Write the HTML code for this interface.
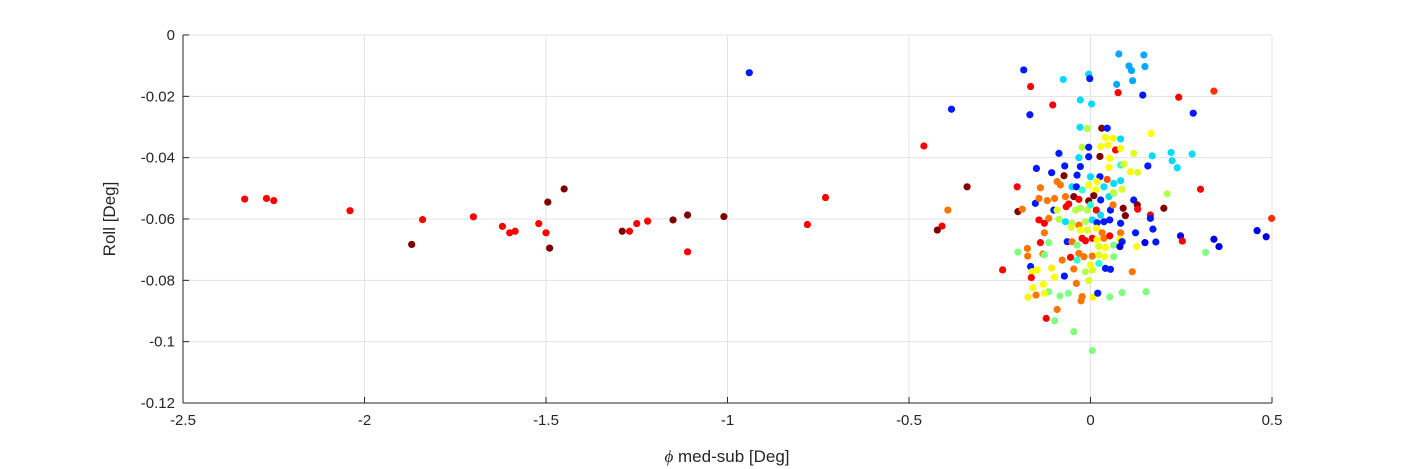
<!DOCTYPE html>
<html><head><meta charset="utf-8">
<style>
html,body{margin:0;padding:0;background:#fff;}
svg{display:block;font-family:"Liberation Sans",sans-serif;}
</style></head>
<body>
<svg id="chart" width="1406" height="469" viewBox="0 0 1406 469">
<rect x="0" y="0" width="1406" height="469" fill="#fff"/>
<g id="grid"></g>
<g id="pts"></g>
<g id="axes"></g>
<text x="727" y="462" text-anchor="middle" font-size="17" fill="#262626"><tspan font-family="Liberation Serif,serif" font-style="italic">ϕ</tspan> med-sub [Deg]</text>
<text transform="translate(115,219) rotate(-90)" text-anchor="middle" font-size="17" fill="#262626">Roll [Deg]</text>
</svg>
<script>
const xTicks=[-2.5,-2,-1.5,-1,-0.5,0,0.5];
const xTickLabels=["-2.5","-2","-1.5","-1","-0.5","0","0.5"];
const yTicks=[0,-0.02,-0.04,-0.06,-0.08,-0.1,-0.12];
const yTickLabels=["0","-0.02","-0.04","-0.06","-0.08","-0.1","-0.12"];
const xs=[-2.33,-2.27,-2.25,-2.04,-1.87,-1.84,-1.70,-1.62,-1.60,-1.585,-1.52,-1.50,-1.495,-1.49,-1.45,-1.29,-1.27,-1.25,-1.22,-1.15,-1.11,-1.11,-1.01,-0.94,-0.78,-0.73,
0.078,0.147,0.106,0.113,0.150,0.116,0.072,-0.184,-0.005,-0.002,-0.075,-0.165,0.076,0.144,0.243,0.340,-0.383,-0.104,-0.028,0.003,-0.167,0.283,-0.459,-0.029,-0.009,0.031,0.046,0.167,0.041,0.062,0.083,-0.087,-0.023,-0.005,0.028,0.048,0.069,0.083,0.119,0.026,0.053,-0.005,-0.032,0.222,0.280,0.170,0.225,0.239,0.158,-0.149,-0.071,-0.028,0.051,0.083,0.092,0.110,0.130,-0.107,-0.073,-0.037,0,0.026,0.046,-0.005,0.018,0.037,0.064,0.083,0.087,-0.340,-0.202,-0.138,-0.092,-0.083,-0.051,-0.039,-0.023,0.014,0.062,0.211,0.303,-0.152,-0.142,-0.119,-0.099,-0.069,-0.046,-0.032,-0.005,0.009,0.028,0.051,0.064,0.119,0.129,0.202,-0.393,-0.200,-0.188,-0.101,-0.092,-0.067,-0.060,-0.041,-0.028,-0.009,0,0.016,0.028,0.055,0.090,0.096,0.130,0.165,0.165,0.499,-0.409,-0.422,-0.142,-0.127,-0.115,-0.087,-0.069,-0.051,-0.032,-0.014,0.005,0.018,0.037,0.053,0.083,-0.053,-0.028,-0.009,0.016,0.032,0.062,0.083,0.124,0.172,-0.127,0.248,0.253,0.340,0.354,0.459,0.484,-0.064,-0.051,-0.023,-0.014,0.005,0.018,0.037,0.053,0.081,0.087,0.150,0.180,-0.138,-0.115,-0.037,0.023,0.041,0.064,0.081,0.127,0.317,-0.200,-0.174,-0.173,-0.131,-0.127,-0.032,-0.018,0.005,0.023,0.039,0.064,-0.055,-0.037,-0.078,0,0.023,0.041,0.055,-0.242,-0.165,-0.161,-0.147,-0.107,-0.046,-0.014,0.005,0.115,-0.163,-0.099,-0.072,-0.005,-0.039,-0.130,-0.159,-0.115,-0.127,-0.150,-0.172,-0.084,-0.061,-0.023,-0.026,0.007,0.020,0.053,0.087,0.153,-0.092,-0.122,-0.099,-0.046,0.005];
const ys=[-0.0535,-0.0533,-0.054,-0.0573,-0.0683,-0.0602,-0.0593,-0.0624,-0.0645,-0.064,-0.0615,-0.0645,-0.0545,-0.0695,-0.0502,-0.064,-0.064,-0.0615,-0.0607,-0.0603,-0.0587,-0.0707,-0.0592,-0.0123,-0.0618,-0.053,
-0.0062,-0.0065,-0.0101,-0.0116,-0.0103,-0.0149,-0.0161,-0.0114,-0.0128,-0.0142,-0.0145,-0.0168,-0.0188,-0.0196,-0.0203,-0.0183,-0.0242,-0.0228,-0.0212,-0.0225,-0.0260,-0.0255,-0.0362,-0.0301,-0.0305,-0.0304,-0.0304,-0.0321,-0.0334,-0.0337,-0.0339,-0.0386,-0.0366,-0.0366,-0.0364,-0.0359,-0.0375,-0.0370,-0.0386,-0.0396,-0.0402,-0.0397,-0.0400,-0.0383,-0.0388,-0.0394,-0.0410,-0.0433,-0.0427,-0.0435,-0.0427,-0.0429,-0.0432,-0.0424,-0.0421,-0.0446,-0.0448,-0.0449,-0.0459,-0.0457,-0.0462,-0.0462,-0.0471,-0.0489,-0.0478,-0.0495,-0.0484,-0.0475,-0.0503,-0.0495,-0.0495,-0.0498,-0.0478,-0.0489,-0.0495,-0.0495,-0.0505,-0.0505,-0.0514,-0.0518,-0.0503,-0.0549,-0.0533,-0.0540,-0.0533,-0.0527,-0.0527,-0.0536,-0.0541,-0.0524,-0.0538,-0.0527,-0.0516,-0.0538,-0.0554,-0.0565,-0.0571,-0.0576,-0.0568,-0.0571,-0.0571,-0.0560,-0.0551,-0.0571,-0.0565,-0.0571,-0.0554,-0.0571,-0.0587,-0.0571,-0.0565,-0.0589,-0.0568,-0.0587,-0.0598,-0.0598,-0.0623,-0.0636,-0.0603,-0.0614,-0.0598,-0.0601,-0.0609,-0.0614,-0.0620,-0.0609,-0.0603,-0.0612,-0.0609,-0.0603,-0.0614,-0.0627,-0.0636,-0.0636,-0.0630,-0.0645,-0.0554,-0.0645,-0.0645,-0.0633,-0.0645,-0.0655,-0.0672,-0.0666,-0.0690,-0.0638,-0.0658,-0.0674,-0.0674,-0.0663,-0.0671,-0.0663,-0.0668,-0.0663,-0.0655,-0.0666,-0.0674,-0.0677,-0.0675,-0.0677,-0.0677,-0.0685,-0.0690,-0.0693,-0.0685,-0.0690,-0.0690,-0.0709,-0.0708,-0.0696,-0.0721,-0.0714,-0.0717,-0.0712,-0.0723,-0.0721,-0.0717,-0.0723,-0.0723,-0.0725,-0.0734,-0.0734,-0.0750,-0.0745,-0.0761,-0.0764,-0.0766,-0.0755,-0.0772,-0.0766,-0.0760,-0.0763,-0.0772,-0.0766,-0.0772,-0.0791,-0.0790,-0.0786,-0.0801,-0.0810,-0.0813,-0.0824,-0.0837,-0.0842,-0.0848,-0.0855,-0.0851,-0.0842,-0.0853,-0.0867,-0.0855,-0.0842,-0.0854,-0.0840,-0.0837,-0.0895,-0.0924,-0.0932,-0.0967,-0.1029];
const cs=[0.92,0.92,0.92,0.92,1.0,0.92,0.92,0.92,0.92,0.92,0.92,0.92,1.0,1.0,1.0,1.0,0.92,0.92,0.92,1.0,1.0,0.92,1.0,0.15,0.92,0.92,
0.35,0.35,0.35,0.35,0.35,0.35,0.35,0.15,0.4,0.15,0.4,0.92,0.92,0.15,0.92,0.88,0.15,0.92,0.4,0.4,0.15,0.15,0.92,0.4,0.6,1.0,0.15,0.7,0.7,0.7,0.4,0.15,0.6,0.15,0.7,0.7,0.92,0.7,0.65,1.0,0.7,0.15,0.4,0.4,0.4,0.4,0.4,0.4,0.15,0.15,0.15,0.15,0.7,0.45,0.65,0.7,0.65,0.15,1.0,0.15,0.4,0.15,0.85,0.7,0.7,0.4,0.4,0.4,0.65,1.0,0.92,0.82,0.82,0.82,0.4,0.15,0.45,0.7,0.7,0.6,0.92,0.15,0.82,0.82,0.82,0.82,1.0,0.92,1.0,1.0,0.15,0.4,0.6,0.15,1.0,1.0,0.82,1.0,0.82,0.15,0.65,0.92,0.92,0.6,0.6,0.6,0.45,0.92,0.4,0.15,1.0,1.0,0.92,0.92,0.15,0.88,0.92,1.0,0.92,0.92,0.82,0.6,0.4,0.6,0.82,0.6,0.4,0.15,0.15,0.15,0.15,0.65,0.7,0.65,0.7,0.82,0.82,0.82,0.15,0.15,0.82,0.05,0.92,0.05,0.05,0.05,0.05,0.15,0.82,0.92,0.92,0.92,0.7,0.82,0.92,0.7,0.15,0.05,0.15,0.92,0.55,0.55,0.65,0.7,0.55,0.05,0.7,0.55,0.55,0.82,0.82,0.82,0.55,0.82,0.82,0.82,0.65,0.7,0.55,0.92,0.45,0.82,0.7,0.45,0.15,0.15,0.92,0.15,0.7,0.7,0.75,0.82,0.6,0.65,0.82,0.92,0.7,0.15,0.65,0.82,0.7,0.7,0.55,0.7,0.82,0.75,0.55,0.55,0.82,0.82,0.75,0.15,0.55,0.55,0.55,0.82,0.92,0.55,0.55,0.55];

const L=183,R=1272,T=35,B=403;
const sx=v=>L+(v-(-2.5))/(0.5-(-2.5))*(R-L);
const sy=v=>T+(0-v)/(0-(-0.12))*(B-T);
const remapIn=[0,0.15,0.35,0.4,0.45,0.55,0.6,0.65,0.7,0.75,0.82,0.88,0.92,1.0];
const remapOut=[0.07,0.15,0.29,0.34,0.42,0.5,0.55,0.59,0.625,0.64,0.76,0.83,0.875,1.0];
function remap(c){
  for(let i=1;i<remapIn.length;i++){
    if(c<=remapIn[i]){const t=(c-remapIn[i-1])/(remapIn[i]-remapIn[i-1]);return remapOut[i-1]+t*(remapOut[i]-remapOut[i-1]);}
  }
  return 1;
}
function jet(c0){
  const c=remap(c0);
  const r=Math.min(Math.max(Math.min(4*c-1.5,-4*c+4.5),0),1);
  const g=Math.min(Math.max(Math.min(4*c-0.5,-4*c+3.5),0),1);
  const b=Math.min(Math.max(Math.min(4*c+0.5,-4*c+2.5),0),1);
  return `rgb(${Math.round(r*255)},${Math.round(g*255)},${Math.round(b*255)})`;
}
const NS="http://www.w3.org/2000/svg";
const grid=document.getElementById('grid'),axes=document.getElementById('axes'),pts=document.getElementById('pts');
function mk(tag,attrs,parent){const e=document.createElementNS(NS,tag);for(const k in attrs)e.setAttribute(k,attrs[k]);parent.appendChild(e);return e;}
xTicks.forEach((t,i)=>{
  const x=sx(t);
  const gl=mk('line',{x1:x,x2:x,y1:T,y2:B,stroke:'#e3e3e3','stroke-width':1},grid);
  
  
  const tk=mk('line',{x1:x,x2:x,y1:B,y2:B-6,stroke:'#262626','stroke-width':1},axes);
  
  
  const lb=mk('text',{x:x,y:B+22,'text-anchor':'middle','font-size':15,fill:'#262626'},axes);
  lb.textContent=xTickLabels[i];
  
  
});
yTicks.forEach((t,i)=>{
  const y=sy(t);
  const gl=mk('line',{x1:L,x2:R,y1:y,y2:y,stroke:'#e3e3e3','stroke-width':1},grid);
  
  
  const tk=mk('line',{x1:L,x2:L+6,y1:y,y2:y,stroke:'#262626','stroke-width':1},axes);
  
  
  const lb=mk('text',{x:L-8,y:y+5,'text-anchor':'end','font-size':15,fill:'#262626'},axes);
  lb.textContent=yTickLabels[i];
  
  
});
const xa=mk('line',{x1:L,x2:R,y1:B,y2:B,stroke:'#262626','stroke-width':1},axes);


const ya=mk('line',{x1:L,x2:L,y1:T,y2:B,stroke:'#262626','stroke-width':1},axes);


const n=Math.min(xs.length,ys.length,cs.length);
for(let i=0;i<n;i++){
  const c=mk('circle',{cx:sx(xs[i]),cy:sy(ys[i]),r:3.6,fill:jet(cs[i])},pts);
  
  
}
</script>
</body></html>
